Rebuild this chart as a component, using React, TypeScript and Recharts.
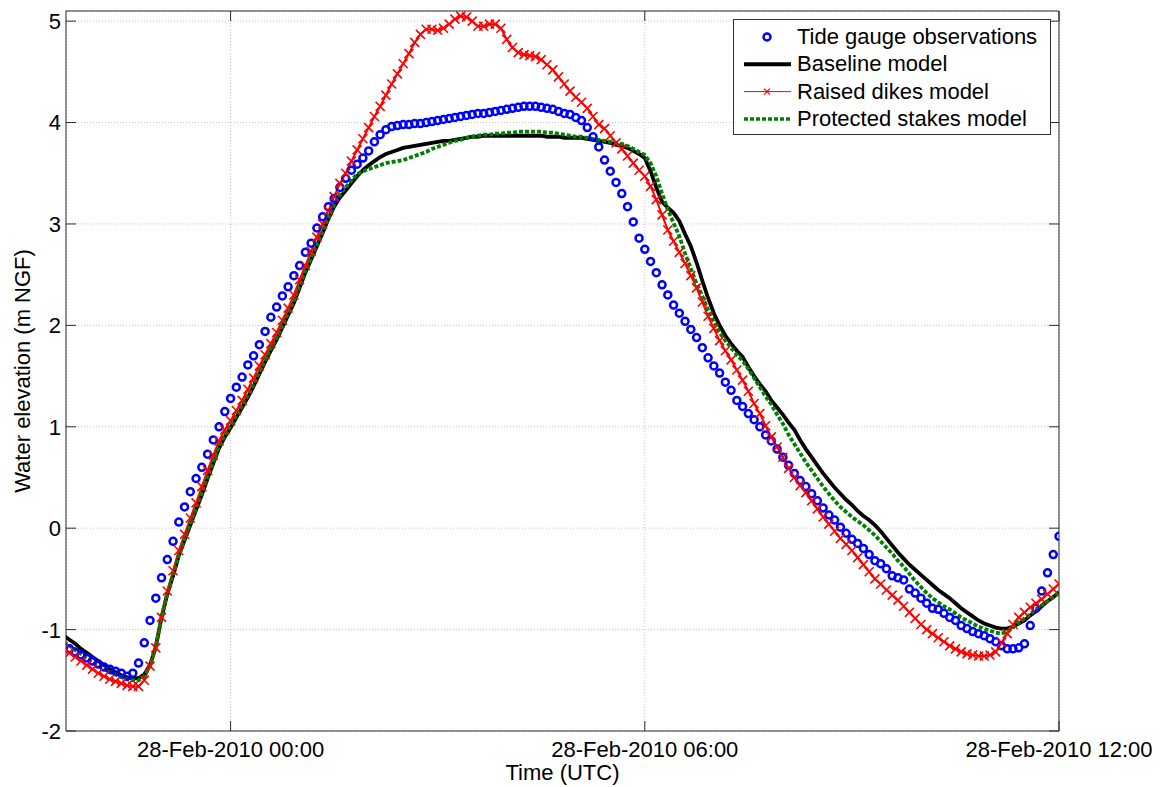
import { LineChart, Line, XAxis, YAxis, CartesianGrid, ReferenceArea, Legend } from "recharts";

// samples every 5 minutes, first one at 27-Feb-2010 21:35 UTC (hours from 28-Feb 00:00)
const START_HOUR = -2 - 25 / 60;
const STEP_HOURS = 5 / 60;

// one row per hour
const obs = [
  -1.17, -1.19, -1.22, -1.25, -1.28, -1.31, -1.34, -1.37, -1.39, -1.41, -1.43, -1.46,
  -1.43, -1.33, -1.13, -0.91, -0.69, -0.49, -0.31, -0.13, 0.06, 0.21, 0.36, 0.49,
  0.6, 0.73, 0.87, 1.0, 1.15, 1.28, 1.39, 1.49, 1.61, 1.7, 1.81, 1.94,
  2.08, 2.18, 2.29, 2.38, 2.49, 2.59, 2.72, 2.81, 2.96, 3.07, 3.17, 3.25,
  3.36, 3.45, 3.53, 3.59, 3.65, 3.72, 3.81, 3.88, 3.93, 3.96, 3.97, 3.98,
  3.98, 3.99, 3.99, 4.0, 4.01, 4.02, 4.03, 4.04, 4.05, 4.06, 4.07, 4.08,
  4.09, 4.09, 4.1, 4.11, 4.12, 4.13, 4.14, 4.15, 4.16, 4.16, 4.16, 4.15,
  4.14, 4.13, 4.11, 4.09, 4.08, 4.05, 4.02, 3.95, 3.86, 3.76, 3.63, 3.52,
  3.41, 3.3, 3.17, 3.02, 2.86, 2.75, 2.63, 2.52, 2.4, 2.3, 2.2, 2.12,
  2.04, 1.96, 1.88, 1.78, 1.68, 1.6, 1.53, 1.44, 1.36, 1.26, 1.2, 1.13,
  1.07, 1.0, 0.92, 0.86, 0.78, 0.7, 0.62, 0.54, 0.47, 0.41, 0.34, 0.27,
  0.2, 0.13, 0.08, 0.01, -0.05, -0.11, -0.15, -0.2, -0.26, -0.32, -0.35, -0.4,
  -0.47, -0.49, -0.51, -0.6, -0.64, -0.69, -0.74, -0.79, -0.8, -0.84, -0.88, -0.91,
  -0.96, -0.99, -1.02, -1.04, -1.06, -1.09, -1.12, -1.16, -1.19, -1.19, -1.18, -1.14,
  -0.96, -0.79, -0.62, -0.44, -0.26, -0.08,
];

const baseline = [
  -1.06, -1.1, -1.14, -1.19, -1.23, -1.27, -1.31, -1.35, -1.39, -1.42, -1.45, -1.47,
  -1.48, -1.48, -1.44, -1.35, -1.17, -0.88, -0.65, -0.47, -0.27, -0.12, 0.03, 0.18,
  0.33, 0.49, 0.64, 0.79, 0.9, 0.99, 1.09, 1.19, 1.29, 1.4, 1.52, 1.64,
  1.75, 1.86, 1.98, 2.1, 2.22, 2.37, 2.52, 2.65, 2.78, 2.91, 3.05, 3.17,
  3.26, 3.33, 3.4, 3.47, 3.53, 3.58, 3.62, 3.66, 3.69, 3.71, 3.73, 3.75,
  3.76, 3.77, 3.78, 3.79, 3.8, 3.81, 3.82, 3.82, 3.83, 3.84, 3.85, 3.86,
  3.86, 3.87, 3.87, 3.87, 3.87, 3.87, 3.87, 3.87, 3.87, 3.87, 3.87, 3.87,
  3.86, 3.86, 3.86, 3.85, 3.85, 3.85, 3.85, 3.84, 3.83, 3.82, 3.81, 3.8,
  3.78, 3.77, 3.75, 3.72, 3.69, 3.65, 3.52, 3.36, 3.22, 3.16, 3.11, 3.03,
  2.9, 2.78, 2.62, 2.44, 2.27, 2.12, 2.0, 1.9, 1.82, 1.75, 1.69, 1.59,
  1.5, 1.42, 1.35, 1.26, 1.19, 1.12, 1.04, 0.97, 0.87, 0.78, 0.7, 0.62,
  0.54, 0.47, 0.4, 0.34, 0.28, 0.23, 0.17, 0.12, 0.08, 0.03, -0.03, -0.1,
  -0.17, -0.24, -0.3, -0.36, -0.41, -0.46, -0.51, -0.56, -0.61, -0.65, -0.69, -0.74,
  -0.79, -0.83, -0.87, -0.91, -0.94, -0.96, -0.98, -0.99, -0.99, -0.97, -0.94, -0.91,
  -0.86, -0.82, -0.77, -0.72, -0.68, -0.63,
];

const raised = [
  -1.19, -1.23, -1.27, -1.31, -1.35, -1.39, -1.43, -1.46, -1.49, -1.51, -1.53, -1.55,
  -1.56, -1.56, -1.5, -1.36, -1.18, -0.88, -0.62, -0.42, -0.22, -0.06, 0.1, 0.25,
  0.41, 0.57, 0.72, 0.86, 0.97, 1.06, 1.16, 1.26, 1.37, 1.48, 1.6, 1.71,
  1.82, 1.93, 2.05, 2.17, 2.3, 2.45, 2.59, 2.73, 2.87, 3.0, 3.13, 3.27,
  3.4, 3.5, 3.62, 3.73, 3.84, 3.95, 4.06, 4.16, 4.27, 4.38, 4.48, 4.58,
  4.68, 4.79, 4.87, 4.92, 4.92, 4.91, 4.93, 4.97, 5.02, 5.05, 5.04, 5.0,
  4.95, 4.95, 4.97, 4.97, 4.93, 4.82, 4.74, 4.69, 4.67, 4.66, 4.65, 4.62,
  4.57, 4.52, 4.45, 4.38, 4.31, 4.25, 4.2, 4.14, 4.06, 3.98, 3.94, 3.87,
  3.8, 3.74, 3.67, 3.6, 3.53, 3.47, 3.37, 3.24, 3.09, 2.94, 2.83, 2.72,
  2.61, 2.49, 2.37, 2.23, 2.09, 1.97, 1.85, 1.75, 1.66, 1.56, 1.46, 1.35,
  1.23, 1.13, 1.01, 0.9, 0.8, 0.7, 0.59, 0.5, 0.42, 0.35, 0.27, 0.19,
  0.11, 0.04, -0.03, -0.1, -0.16, -0.22, -0.29, -0.36, -0.43, -0.5, -0.55, -0.61,
  -0.66, -0.71, -0.77, -0.83, -0.89, -0.95, -1.0, -1.04, -1.08, -1.12, -1.16, -1.19,
  -1.22, -1.24, -1.25, -1.26, -1.26, -1.25, -1.22, -1.13, -1.04, -0.95, -0.88, -0.83,
  -0.78, -0.74, -0.7, -0.65, -0.6, -0.55,
];

const stakes = [
  -1.12, -1.16, -1.2, -1.24, -1.28, -1.32, -1.35, -1.38, -1.42, -1.44, -1.47, -1.49,
  -1.5, -1.5, -1.46, -1.35, -1.17, -0.88, -0.64, -0.46, -0.26, -0.1, 0.05, 0.2,
  0.35, 0.51, 0.66, 0.81, 0.92, 1.01, 1.11, 1.21, 1.31, 1.42, 1.54, 1.66,
  1.77, 1.88, 2.0, 2.12, 2.24, 2.39, 2.54, 2.67, 2.8, 2.93, 3.07, 3.19,
  3.29, 3.36, 3.43, 3.49, 3.52, 3.54, 3.56, 3.58, 3.6, 3.61, 3.62, 3.63,
  3.65, 3.67, 3.69, 3.71, 3.74, 3.76, 3.78, 3.8, 3.82, 3.83, 3.85, 3.86,
  3.87, 3.88, 3.88, 3.89, 3.89, 3.9, 3.9, 3.91, 3.91, 3.91, 3.91, 3.91,
  3.9, 3.9, 3.89, 3.88, 3.87, 3.86, 3.86, 3.85, 3.84, 3.83, 3.82, 3.81,
  3.8, 3.79, 3.77, 3.74, 3.71, 3.68, 3.6, 3.47, 3.3, 3.14, 3.01, 2.88,
  2.71, 2.56, 2.41, 2.29, 2.15, 2.04, 1.93, 1.85, 1.78, 1.71, 1.65, 1.57,
  1.48, 1.39, 1.3, 1.22, 1.12, 1.03, 0.92, 0.83, 0.74, 0.65, 0.57, 0.49,
  0.41, 0.34, 0.27, 0.21, 0.16, 0.11, 0.07, 0.03, -0.02, -0.07, -0.13, -0.19,
  -0.25, -0.32, -0.38, -0.45, -0.52, -0.58, -0.64, -0.69, -0.73, -0.77, -0.8, -0.84,
  -0.88, -0.91, -0.94, -0.97, -0.99, -1.01, -1.03, -1.04, -1.02, -0.98, -0.93, -0.89,
  -0.85, -0.8, -0.76, -0.72, -0.68, -0.64,
];

const seriesNames = [
  "Tide gauge observations",
  "Baseline model",
  "Raised dikes model",
  "Protected stakes model",
];

const xTicks = [0, 6, 12];
const xTickLabels = ["28-Feb-2010 00:00", "28-Feb-2010 06:00", "28-Feb-2010 12:00"];
const yTicks = [-2, -1, 0, 1, 2, 3, 4, 5];
const xTitle = "Time (UTC)";
const yTitle = "Water elevation (m NGF)";

const X_MIN = -2.384;
const X_MAX = 12;
const Y_MIN = -2;
const Y_MAX = 5.1;

// plot box in page pixels
const LEFT = 66;
const RIGHT = 1059;
const TOP = 11;
const BOTTOM = 731;

const AXIS = "#2b2b2b";
const FONT = "'Liberation Sans', Arial, sans-serif";

const data = obs.map((v, i) => ({
  t: START_HOUR + i * STEP_HOURS,
  obs: v,
  baseline: baseline[i],
  raised: raised[i],
  stakes: stakes[i],
}));

function YTick(props: any) {
  const { y, payload } = props;
  return (
    <g>
      <line x1={LEFT} x2={LEFT + 10} y1={y} y2={y} stroke={AXIS} />
      <line x1={RIGHT - 10} x2={RIGHT} y1={y} y2={y} stroke={AXIS} />
      <text x={LEFT - 5} y={y} dy="0.36em" textAnchor="end" fontSize={22} fill="#000" fontFamily={FONT}>
        {payload.value}
      </text>
    </g>
  );
}

function XTick(props: any) {
  const { x, payload } = props;
  const label = xTickLabels[xTicks.indexOf(payload.value)];
  return (
    <g>
      <line x1={x} x2={x} y1={BOTTOM} y2={BOTTOM - 10} stroke={AXIS} />
      <line x1={x} x2={x} y1={TOP} y2={TOP + 10} stroke={AXIS} />
      <text x={x} y={749} dy="0.36em" textAnchor="middle" fontSize={22} fill="#000" fontFamily={FONT}>
        {label}
      </text>
    </g>
  );
}

function Cross(props: any) {
  const { cx, cy, index } = props;
  if (cx == null || cy == null) return <g key={index} />;
  const s = 4.5;
  return (
    <path
      key={index}
      d={`M${cx - s},${cy - s}L${cx + s},${cy + s}M${cx - s},${cy + s}L${cx + s},${cy - s}`}
      stroke="#ff0000"
      strokeWidth={1.6}
      fill="none"
    />
  );
}

function LegendBox() {
  const rowH = 27.3;
  return (
    <div
      style={{
        width: 316,
        height: 114,
        border: "1px solid #333",
        background: "#fff",
        fontFamily: FONT,
        fontSize: 22,
        color: "#000",
        position: "relative",
      }}
    >
      <svg width={60} height={114} style={{ position: "absolute", left: 0, top: 0 }}>
        <circle cx={33} cy={17} r={3.5} stroke="#0000ff" strokeWidth={2.5} fill="none" />
        <line x1={10} x2={57} y1={17 + rowH} y2={17 + rowH} stroke="#000" strokeWidth={4} />
        <line x1={10} x2={57} y1={17 + rowH * 2} y2={17 + rowH * 2} stroke="#ff0000" strokeWidth={1} />
        <path
          d={`M30,${17 + rowH * 2 - 3}L36,${17 + rowH * 2 + 3}M30,${17 + rowH * 2 + 3}L36,${17 + rowH * 2 - 3}`}
          stroke="#ff0000"
          strokeWidth={1.2}
        />
        <line
          x1={10}
          x2={57}
          y1={17 + rowH * 3}
          y2={17 + rowH * 3}
          stroke="#008000"
          strokeWidth={3.5}
          strokeDasharray="4 2"
        />
      </svg>
      {seriesNames.map((name, i) => (
        <div
          key={name}
          style={{
            position: "absolute",
            left: 63,
            top: 17 + rowH * i - 13,
            height: 26,
            lineHeight: "26px",
            whiteSpace: "nowrap",
          }}
        >
          {name}
        </div>
      ))}
    </div>
  );
}

export default function App() {
  return (
    <div style={{ position: "absolute", left: 0, top: 0, width: 1161, height: 787, fontFamily: FONT, background: "#fff" }}>
      <LineChart
        width={1161}
        height={787}
        data={data}
        margin={{ top: TOP, right: 1161 - RIGHT, bottom: 0, left: 0 }}
      >
        <CartesianGrid stroke="#c4c4c4" strokeDasharray="1 2" />
        <XAxis
          dataKey="t"
          type="number"
          domain={[X_MIN, X_MAX]}
          allowDataOverflow
          ticks={xTicks}
          tick={<XTick />}
          tickLine={false}
          axisLine={false}
          tickSize={0}
          height={787 - BOTTOM}
        />
        <YAxis
          type="number"
          domain={[Y_MIN, Y_MAX]}
          allowDataOverflow
          ticks={yTicks}
          tick={<YTick />}
          tickLine={false}
          axisLine={false}
          tickSize={0}
          width={LEFT}
        />
        <ReferenceArea x1={X_MIN} x2={X_MAX} y1={Y_MIN} y2={Y_MAX} fill="none" stroke={AXIS} strokeWidth={1} />
        <Line
          dataKey="obs"
          name={seriesNames[0]}
          stroke="none"
          isAnimationActive={false}
          dot={{ r: 3.5, stroke: "#0000ff", strokeWidth: 2.5, fill: "none" }}
        />
        <Line
          dataKey="baseline"
          name={seriesNames[1]}
          stroke="#000"
          strokeWidth={3.8}
          dot={false}
          isAnimationActive={false}
        />
        <Line
          dataKey="raised"
          name={seriesNames[2]}
          stroke="#ff0000"
          strokeWidth={2}
          dot={(p: any) => <Cross {...p} />}
          isAnimationActive={false}
        />
        <Line
          dataKey="stakes"
          name={seriesNames[3]}
          stroke="#008000"
          strokeWidth={3.8}
          strokeDasharray="4 2"
          dot={false}
          isAnimationActive={false}
        />
        <Legend
          layout="vertical"
          align="center"
          verticalAlign="middle"
          content={() => <LegendBox />}
          wrapperStyle={{ position: "absolute", left: 733, top: 19, width: 318, height: 116 }}
        />
      </LineChart>
      <div
        style={{
          position: "absolute",
          left: (LEFT + RIGHT) / 2 - 100,
          top: 773 - 13,
          width: 200,
          height: 26,
          lineHeight: "26px",
          textAlign: "center",
          fontSize: 22,
          color: "#000",
        }}
      >
        {xTitle}
      </div>
      <div
        style={{
          position: "absolute",
          left: 23 - 160,
          top: (TOP + BOTTOM) / 2 - 13,
          width: 320,
          height: 26,
          lineHeight: "26px",
          textAlign: "center",
          fontSize: 22,
          color: "#000",
          transform: "rotate(-90deg)",
        }}
      >
        {yTitle}
      </div>
    </div>
  );
}
